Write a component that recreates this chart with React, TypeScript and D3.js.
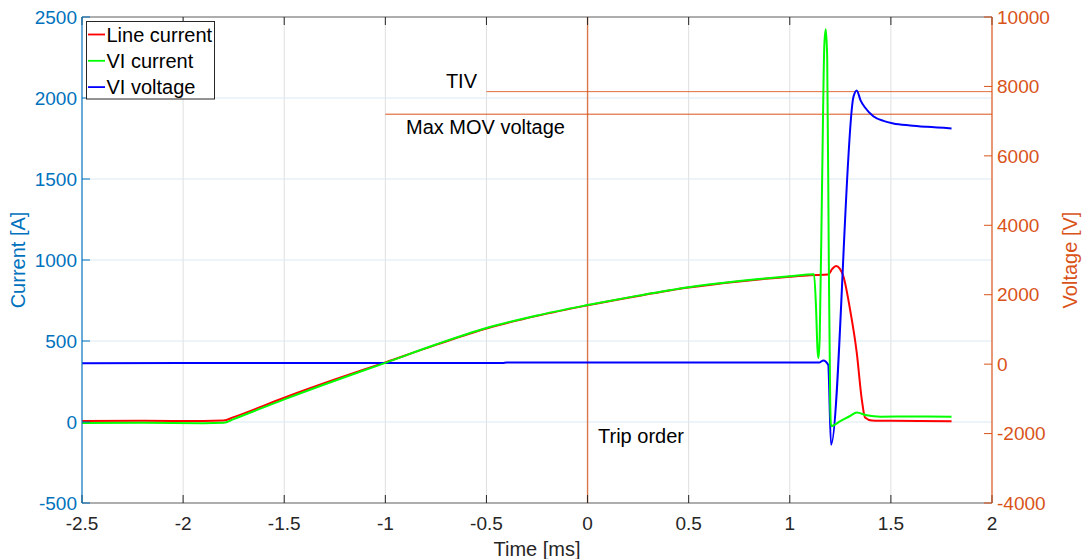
import React from 'react';
import * as d3 from 'd3';

// Line current / VI current / VI voltage around the trip order, double y axis.

const WIDTH = 1083;
const HEIGHT = 559;
const MARGIN = { top: 17, right: 91, bottom: 56, left: 82 };
const FONT = '"Liberation Sans", Arial, Helvetica, sans-serif';
const BLUE_AXIS = '#0072BD';
const ORANGE_AXIS = '#D95319';
const DARK = '#262626';

const X_TICKS = [-2.5, -2, -1.5, -1, -0.5, 0, 0.5, 1, 1.5, 2];
const CURRENT_TICKS = [-500, 0, 500, 1000, 1500, 2000, 2500];
const VOLTAGE_TICKS = [-4000, -2000, 0, 2000, 4000, 6000, 8000, 10000];

// [time ms, current A]
const lineCurrent: [number, number][] = [
  [-2.5, 6], [-2.2, 7], [-1.9, 6], [-1.8, 9], [-1.75, 30], [-1.5, 150], [-1.25, 262],
  [-1.0, 368], [-0.75, 476], [-0.5, 577], [-0.25, 655], [0, 720], [0.25, 778],
  [0.5, 830], [0.75, 868], [1.0, 897], [1.1, 906], [1.19, 910], [1.21, 945],
  [1.229, 963], [1.248, 945], [1.265, 900], [1.298, 695], [1.331, 430], [1.356, 140],
  [1.372, 28], [1.405, 10], [1.5, 7], [1.8, 5],
];

const viCurrent: [number, number][] = [
  [-2.5, -6], [-2.2, -5], [-1.9, -7], [-1.8, -5], [-1.75, 18], [-1.5, 140], [-1.25, 255],
  [-1.0, 365], [-0.75, 478], [-0.5, 580], [-0.25, 658], [0, 722], [0.25, 780],
  [0.5, 832], [0.75, 870], [1.0, 900], [1.12, 912], [1.13, 700], [1.137, 450],
  [1.142, 395], [1.148, 520], [1.16, 1500], [1.171, 2330], [1.178, 2424], [1.185, 2250],
  [1.193, 1000], [1.2, 120], [1.204, -25], [1.25, 5], [1.298, 37], [1.331, 58],
  [1.38, 41], [1.45, 33], [1.6, 34], [1.8, 33],
];

// [time ms, voltage V]
const viVoltage: [number, number][] = [
  [-2.5, 28], [-1.5, 30], [-0.42, 30], [-0.4, 45], [0.5, 45], [1.145, 45],
  [1.166, 105], [1.19, -20], [1.204, -2322], [1.315, 7700], [1.331, 7885],
  [1.35, 7600], [1.372, 7393], [1.413, 7143], [1.463, 7008], [1.512, 6933],
  [1.595, 6875], [1.678, 6835], [1.8, 6790],
];

const TIV = 7850;
const MAX_MOV = 7200;
const TRIP_TIME = 0;

const SERIES = [
  { name: 'Line current', color: '#FF0000' },
  { name: 'VI current', color: '#00FF00' },
  { name: 'VI voltage', color: '#0000FF' },
];

export default function App() {
  const x = d3.scaleLinear().domain([-2.5, 2]).range([MARGIN.left, WIDTH - MARGIN.right]);
  const yL = d3.scaleLinear().domain([-500, 2500]).range([HEIGHT - MARGIN.bottom, MARGIN.top]);
  const yR = d3.scaleLinear().domain([-4000, 10000]).range([HEIGHT - MARGIN.bottom, MARGIN.top]);

  const x0 = MARGIN.left;
  const x1 = WIDTH - MARGIN.right;
  const y0 = HEIGHT - MARGIN.bottom;
  const y1 = MARGIN.top;
  const TICK = 8;

  const currentLine = d3
    .line<[number, number]>()
    .x((d) => x(d[0]))
    .y((d) => yL(d[1]))
    .curve(d3.curveMonotoneX);
  const voltageLine = d3
    .line<[number, number]>()
    .x((d) => x(d[0]))
    .y((d) => yR(d[1]))
    .curve(d3.curveMonotoneX);

  return (
    <svg
      width={WIDTH}
      height={HEIGHT}
      style={{ position: 'absolute', left: 0, top: 0, background: '#fff' }}
      fontFamily={FONT}
    >
      {/* grid */}
      {X_TICKS.slice(1, -1).map((t) => (
        <line key={`gx${t}`} x1={x(t)} x2={x(t)} y1={y1} y2={y0} stroke="#dfdfdf" strokeWidth={1} />
      ))}
      {CURRENT_TICKS.slice(1, -1).map((v) => (
        <line key={`gy${v}`} x1={x0} x2={x1} y1={yL(v)} y2={yL(v)} stroke="#dbe9f4" strokeWidth={1} />
      ))}

      {/* reference lines */}
      <line x1={x(TRIP_TIME)} x2={x(TRIP_TIME)} y1={y1} y2={y0} stroke={ORANGE_AXIS} strokeOpacity={0.75} strokeWidth={1.4} />
      <line x1={x(-0.5)} x2={x1} y1={yR(TIV)} y2={yR(TIV)} stroke={ORANGE_AXIS} strokeOpacity={0.85} strokeWidth={1} />
      <line x1={x(-1)} x2={x1} y1={yR(MAX_MOV)} y2={yR(MAX_MOV)} stroke={ORANGE_AXIS} strokeWidth={1} />

      {/* data */}
      <path d={currentLine(lineCurrent) ?? ''} fill="none" stroke={SERIES[0].color} strokeWidth={2} />
      <path d={voltageLine(viVoltage) ?? ''} fill="none" stroke={SERIES[2].color} strokeWidth={2} />
      <path d={currentLine(viCurrent) ?? ''} fill="none" stroke={SERIES[1].color} strokeWidth={2} />

      {/* annotations */}
      <text x={477} y={88} fontSize={20} textAnchor="end" fill="#000">TIV</text>
      <text x={406} y={134} fontSize={20} fill="#000">Max MOV voltage</text>
      <text x={598} y={443} fontSize={20} fill="#000">Trip order</text>

      {/* box: top and bottom */}
      <line x1={x0} x2={x1} y1={y1} y2={y1} stroke={DARK} strokeOpacity={0.75} strokeWidth={1} />
      <line x1={x0} x2={x1} y1={y0} y2={y0} stroke={DARK} strokeOpacity={0.75} strokeWidth={1} />
      {X_TICKS.map((t) => (
        <g key={`xt${t}`}>
          <line x1={x(t)} x2={x(t)} y1={y0} y2={y0 - TICK} stroke={DARK} />
          <line x1={x(t)} x2={x(t)} y1={y1} y2={y1 + TICK} stroke={DARK} />
          <text x={x(t)} y={530} fontSize={19} textAnchor="middle" fill={DARK}>
            {String(t)}
          </text>
        </g>
      ))}
      <text x={(x0 + x1) / 2} y={556} fontSize={20} textAnchor="middle" fill={DARK}>
        Time [ms]
      </text>

      {/* left axis */}
      <line x1={x0} x2={x0} y1={y1} y2={y0} stroke={BLUE_AXIS} strokeWidth={1.2} />
      {CURRENT_TICKS.map((v) => (
        <g key={`yl${v}`}>
          <line x1={x0} x2={x0 + TICK} y1={yL(v)} y2={yL(v)} stroke={BLUE_AXIS} />
          <text x={77} y={yL(v)} dy="0.35em" fontSize={19} textAnchor="end" fill={BLUE_AXIS}>
            {v}
          </text>
        </g>
      ))}
      <text
        transform={`translate(25, ${(y0 + y1) / 2}) rotate(-90)`}
        fontSize={20}
        textAnchor="middle"
        fill={BLUE_AXIS}
      >
        Current [A]
      </text>

      {/* right axis */}
      <line x1={x1} x2={x1} y1={y1} y2={y0} stroke={ORANGE_AXIS} strokeWidth={1.2} />
      {VOLTAGE_TICKS.map((v) => (
        <g key={`yr${v}`}>
          <line x1={x1} x2={x1 - TICK} y1={yR(v)} y2={yR(v)} stroke={ORANGE_AXIS} />
          <text x={997} y={yR(v)} dy="0.35em" fontSize={19} fill={ORANGE_AXIS}>
            {v}
          </text>
        </g>
      ))}
      <text
        transform={`translate(1077, ${(y0 + y1) / 2}) rotate(-90)`}
        fontSize={20}
        textAnchor="middle"
        fill={ORANGE_AXIS}
      >
        Voltage [V]
      </text>

      {/* legend */}
      <g>
        <rect x={86.5} y={21.5} width={128} height={77.5} fill="#fff" stroke={DARK} strokeWidth={1} />
        {SERIES.map((s, i) => {
          const cy = 34.5 + i * 26.3;
          return (
            <g key={s.name}>
              <line x1={88} x2={105} y1={cy} y2={cy} stroke={s.color} strokeWidth={1.8} />
              <text x={106.5} y={cy} dy="0.35em" fontSize={20} fill="#000">
                {s.name}
              </text>
            </g>
          );
        })}
      </g>
    </svg>
  );
}
